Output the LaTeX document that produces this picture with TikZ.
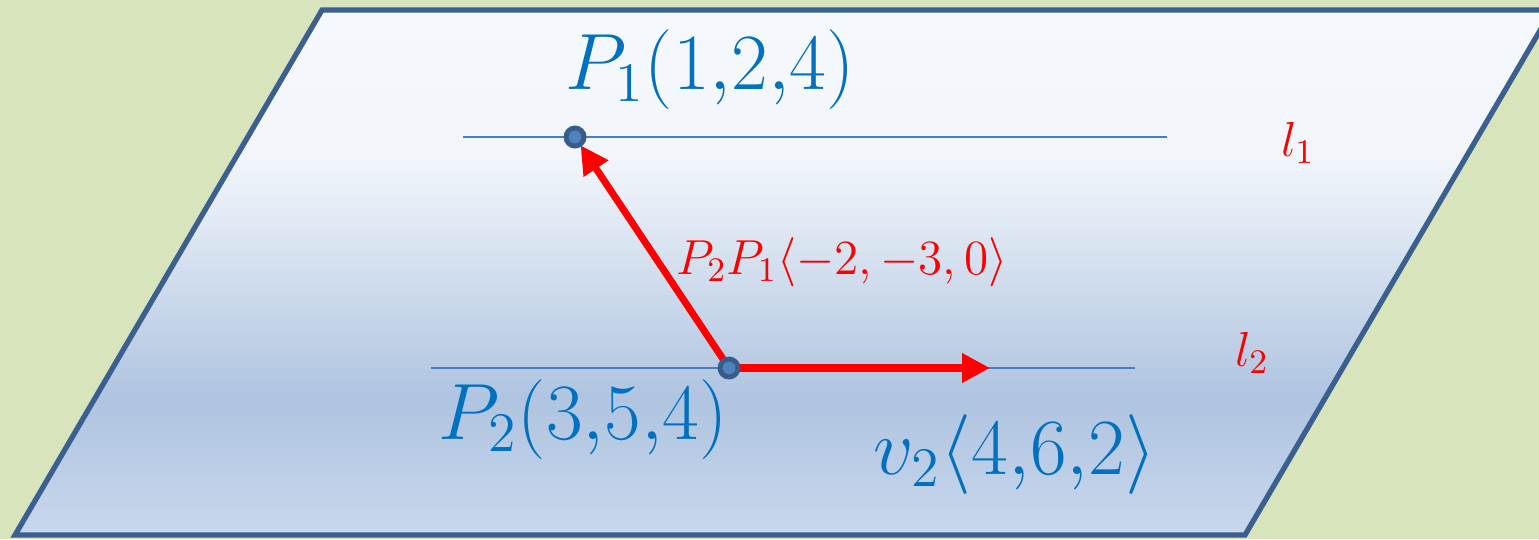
\documentclass[tikz,border=0pt]{standalone}
\usepackage{fix-cm}
\usetikzlibrary{arrows.meta}
\definecolor{bgreen}{HTML}{D8E4BC}
\definecolor{edgeblue}{HTML}{3B5F8E}
\definecolor{linblue}{HTML}{4A7EBB}
\definecolor{txtblue}{HTML}{0070C0}
\definecolor{dotfill}{HTML}{4F81BD}
\definecolor{dotedge}{HTML}{385D8A}
\definecolor{shA}{HTML}{C8D7EC}
\definecolor{shB}{HTML}{AFC4E0}
\definecolor{shC}{HTML}{F2F6FB}
\definecolor{shD}{HTML}{F5F8FC}
\pgfdeclareverticalshading{plane}{100bp}{
  color(0bp)=(shA); color(25bp)=(shA); color(38bp)=(shB);
  color(61bp)=(shC); color(75bp)=(shD); color(100bp)=(shD)}
\tikzset{
  pt/.style={circle,fill=dotfill,draw=dotedge,line width=1.4pt,inner sep=0pt,minimum size=0.18cm},
  vec/.style={red,line width=2pt,-{Triangle[length=0.28cm,width=0.28cm]}},
  big/.style={text=txtblue,font=\fontsize{22.7}{27}\selectfont,inner sep=0pt},
  small/.style={text=red,font=\fontsize{14}{17}\selectfont,inner sep=0pt}
}
\newcommand{\dotpt}[1]{\foreach \p in {#1} \node[pt] (\p dot) at (\p) {};}

\begin{document}
\begin{tikzpicture}
  \useasboundingbox (0,0) rectangle (15.39,5.39);
  \clip (0,0) rectangle (15.39,5.39);
  \fill[bgreen] (0,0) rectangle (15.39,5.39);

  \coordinate (BL) at (0.15,0.04);
  \coordinate (TL) at (3.22,5.29);
  \coordinate (TR) at (15.52,5.29);
  \coordinate (BR) at (12.45,0.04);
  \coordinate (P1) at (5.75,4.02);
  \coordinate (P2) at (7.29,1.71);
  \coordinate (V)  at (9.90,1.71);

  \shade[shading=plane] (BL) -- (TL) -- (TR) -- (BR) -- cycle;
  \draw[edgeblue,line width=1.5pt,line join=miter] (BL) -- (TL) -- (TR) -- (BR) -- cycle;

  \draw[linblue,line width=0.7pt] (4.63,4.02) -- (11.67,4.02);
  \draw[linblue,line width=0.7pt] (4.31,1.71) -- (11.35,1.71);

  \draw[vec,shorten >=0.1cm] (P2) -- (P1);
  \draw[vec] (P2) -- (V);

  \dotpt{P1,P2}
  \node[big]   (lP1) at (7.10,4.69) {$P_1(1{,}2{,}4)$};
  \node[big]   (lP2) at (5.83,1.19) {$P_2(3{,}5{,}4)$};
  \node[big]   (lV)  at (10.15,0.84) {$v_2\langle 4{,}6{,}2\rangle$};
  \node[small] (lD)  at (8.42,2.77) {$P_2P_1\langle -2, -3, 0\rangle$};
  \node[small] (l1)  at (12.98,3.96) {$l_1$};
  \node[small] (l2)  at (12.52,1.86) {$l_2$};
\end{tikzpicture}
\end{document}
